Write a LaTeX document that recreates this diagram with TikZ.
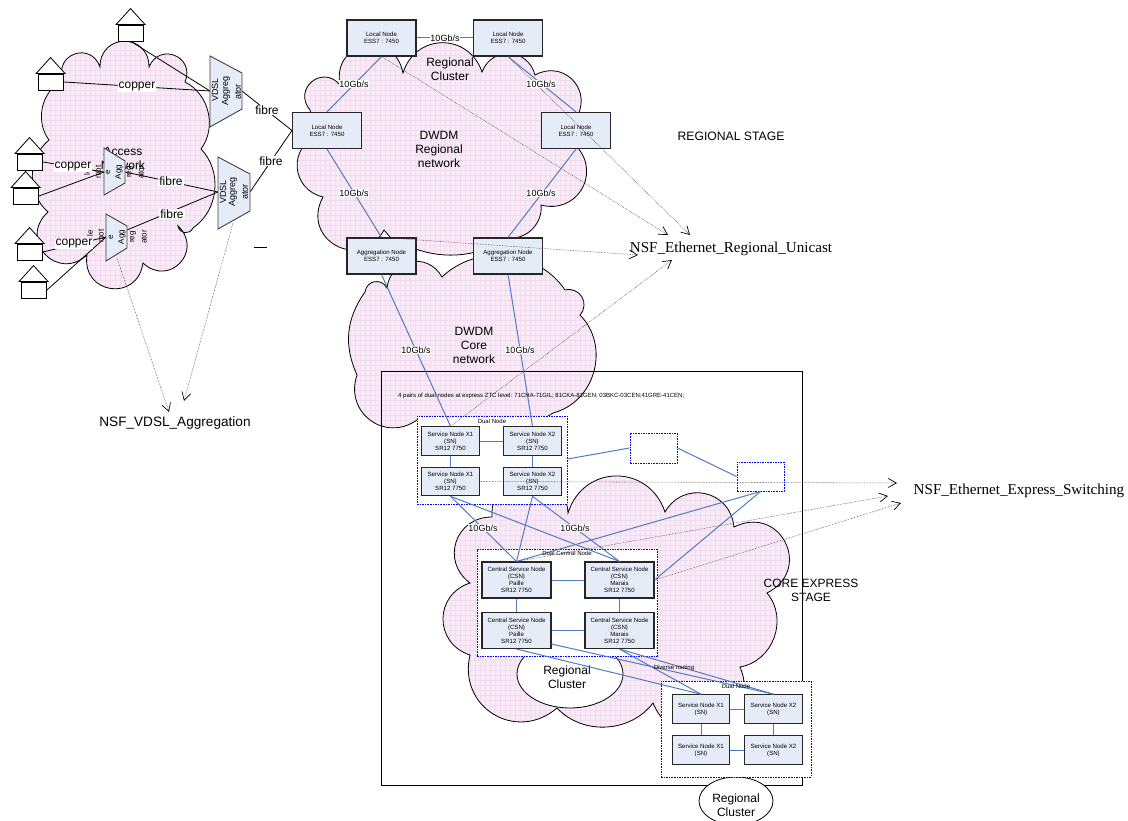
\documentclass[tikz,border=0pt]{standalone}
\usepackage{fontspec}
\setmainfont{Liberation Sans}
\newfontfamily\serifnsf{Liberation Serif}
\usetikzlibrary{arrows.meta,shapes.geometric}
\definecolor{pinkfill}{HTML}{F8EAF6}
\definecolor{pinkgrid}{HTML}{F3DCF0}
\definecolor{nodeblue}{HTML}{E6ECF7}
\definecolor{linkblue}{HTML}{4F7CC4}
\definecolor{groupblue}{HTML}{0000FF}
\newcommand{\cloudshape}[1]{%
  \fill[pinkfill] #1;
  \begin{scope}\clip #1;
    \draw[pinkgrid,line width=.3pt,step=5pt] (0,0) grid (1128,821);
  \end{scope}
  \draw[black,line width=.8pt] #1;
}
\newcommand{\house}[3]{%
  \node[housebox] (#1) at (#2,#3+24) {};
  \draw[black,line width=.8pt,fill=white,line join=miter] (#1.north west) ++(-2,0) -- ++(14.5,-16) -- ++(14.5,16) -- cycle;
}
\tikzset{
  lobe/.style={bend left=72,looseness=1.35},
  mid/.style={bend left=60,looseness=1.1},
  big/.style={bend left=90,looseness=1.8},
  flat/.style={bend left=50,looseness=1},
  vflat/.style={bend left=30,looseness=1},
  housebox/.style={draw=black,fill=white,line width=.9pt,minimum width=25pt,minimum height=16pt,inner sep=0pt},
  netnode/.style={draw=black!85,fill=nodeblue,line width=1.1pt,inner sep=0pt,align=center,font=\fontsize{6.1}{7}\selectfont},
  lnode/.style={netnode,minimum width=69pt,minimum height=36pt},
  snode/.style={netnode,minimum width=57.5pt,minimum height=28.5pt},
  groupbox/.style={draw=groupblue,dash pattern=on 1.6pt off 1pt,line width=1pt,fill=white,inner sep=0pt},
  link/.style={draw=linkblue,line width=1pt},
  wire/.style={draw=black,line width=.8pt},
  ref/.style={draw=black!75,densely dotted,line width=.55pt,-{Straight Barb[length=8pt,width=9pt,line width=.7pt,black]}},
  lab/.style={fill=white,inner sep=.6pt,font=\fontsize{9}{10}\selectfont},
  wirelab/.style={fill=white,inner sep=1pt,font=\fontsize{12}{13}\selectfont},
  txt/.style={align=center,font=\fontsize{12}{14}\selectfont,inner sep=0pt},
  smalltxt/.style={font=\fontsize{6}{7}\selectfont,inner sep=0pt},
  agg/.style={draw=black!75,fill=nodeblue,line width=.9pt},
  vert/.style={rotate=90,font=\fontsize{9}{10}\selectfont,inner sep=0pt},
  vertsm/.style={rotate=90,font=\fontsize{8}{9}\selectfont,inner sep=0pt},
  whitecloud/.style={ellipse,draw=black,line width=.8pt,fill=white,inner sep=0pt},
}
\begin{document}
\begin{tikzpicture}[x=1pt,y=-1pt]
\useasboundingbox (0,0) rectangle (1128,821);
\fill[white] (0,0) rectangle (1128,821);

% clouds
\cloudshape{(63,80) to[big] (100,67) to[big] (149,67) to[big] (185,82) to[flat] (201,149) to[flat] (193,228) to[lobe] (178,226) to[big] (143,263) to[big] (87,255) to[big] (48,212) to[flat] (49,140) to[flat] cycle}
\cloudshape{(310,110) to[big] (340,85) to[big] (403,73) to[lobe] (482,72) to[lobe] (535,75) to[lobe] (578,115) -- (578,148) to[lobe] (541,205) to[flat] (510,238) to[vflat] (390,237) -- (384,230) to[big] (323,197) to[lobe] (318,135) -- cycle}
\cloudshape{(365,292) to[lobe] (387,288) to[lobe] (442,277) to[flat] (565,290) to[lobe] (580,315) to[mid] (553,413) to[vflat] (417,420) to[lobe] (357,375) to[vflat] cycle}
\cloudshape{(492,517) to[big] (568,513) to[lobe] (665,512) to[lobe] (734,527) to[big] (767,593) to[mid] (740,667) to[big] (653,703) to[flat] (557,708) to[lobe] (470,655) to[lobe] (470,583) to[lobe] cycle}

% cloud texts
\node[txt] (tAccess) at (123,158) {Access\\Network};
\node[txt] (tRegCl) at (450,69.5) {Regional\\Cluster};
\node[txt] (tDwdmR) at (439,149) {DWDM\\Regional\\network};
\node[txt] (tDwdmC) at (474,345) {DWDM\\Core\\network};
\node[txt] (tCore) at (811,590) {CORE EXPRESS\\STAGE};
\node[txt,font=\fontsize{12.2}{14}\selectfont] (tStage) at (731,136) {REGIONAL STAGE};

% express frame
\node[draw=black,line width=.9pt,minimum width=421pt,minimum height=414pt,inner sep=0pt] (frame) at (591.5,578) {};

% lower regional clusters
\node[whitecloud,minimum width=106pt,minimum height=68pt] (rc1) at (570,674) {};
\node[whitecloud,minimum width=74pt,minimum height=48pt] (rc2) at (736,801) {};
\node[txt] (rc1t) at (567,677) {Regional\\Cluster};
\node[txt] (rc2t) at (736,805) {Regional\\Cluster};

% group boxes
\node[groupbox,minimum width=150pt,minimum height=88pt] (gD1) at (492,460) {};
\node[groupbox,minimum width=180pt,minimum height=107pt] (gC) at (567,602.5) {};
\node[groupbox,minimum width=150pt,minimum height=96pt] (gD2) at (736,729) {};
\node[groupbox,minimum width=47pt,minimum height=30pt] (b1) at (653.5,448) {};
\node[groupbox,minimum width=47pt,minimum height=29pt] (b2) at (760.5,476.5) {};

% regional nodes
\node[lnode] (L1) at (381.5,38) {Local Node\\ESS7 : 7450};
\node[lnode] (L2) at (508,38) {Local Node\\ESS7 : 7450};
\node[lnode] (LL) at (327,130.5) {Local Node\\ESS7 : 7450};
\node[lnode] (LR) at (576,130.5) {Local Node\\ESS7 : 7450};
\node[lnode] (A1) at (381.5,256) {Aggregation  Node\\ESS7 : 7450};
\node[lnode] (A2) at (508,256) {Aggregation  Node\\ESS7 : 7450};

% service nodes
\node[snode] (S1) at (450.5,441) {Service Node X1\\(SN)\\SR12 7750};
\node[snode] (S2) at (532.5,441) {Service Node X2\\(SN)\\SR12 7750};
\node[snode] (S3) at (450.5,481.5) {Service Node X1\\(SN)\\SR12 7750};
\node[snode] (S4) at (532.5,481.5) {Service Node X2\\(SN)\\SR12 7750};
\node[lnode] (C1) at (516.5,580) {Central Service Node\\(CSN)\\Paille\\SR12 7750};
\node[lnode] (C2) at (619.5,580) {Central Service Node\\(CSN)\\Marais\\SR12 7750};
\node[lnode] (C3) at (516.5,630.5) {Central Service Node\\(CSN)\\Paille\\SR12 7750};
\node[lnode] (C4) at (619.5,630.5) {Central Service Node\\(CSN)\\Marais\\SR12 7750};
\node[snode] (T1) at (701,709) {Service Node X1\\(SN)};
\node[snode] (T2) at (773.5,709) {Service Node X2\\(SN)};
\node[snode] (T3) at (701,750) {Service Node X1\\(SN)};
\node[snode] (T4) at (773.5,750) {Service Node X2\\(SN)};

% blue links
\draw[link] (L1) -- (L2);
\draw[link] (L1.south) -- (LL.north);
\draw[link] (L2.south) -- (LR.north);
\draw[link] (LL.south) -- (A1.north);
\draw[link] (LR.south) -- (A2.north);
\draw[link] (A1.south) -- (S1.north);
\draw[link] (A2.south) -- (S2.north);
\draw[link] (S1) -- (S2);
\draw[link] (S1) -- (S3);
\draw[link] (S2) -- (S4);
\draw[link] (S3.south) -- (C1.north);
\draw[link] (S3.south) -- (C2.north);
\draw[link] (S4.south) -- (C1.north);
\draw[link] (S4.south) -- (C2.north);
\draw[link] (gD1.east) ++(0,-1) -- (b1.west);
\draw[link] (b1.east) -- (b2.west);
\draw[link] (b2.south) -- (C1.north);
\draw[link] (b2.south) -- (C2.east);
\draw[link] (C1) -- (C2);
\draw[link] (C1) -- (C3);
\draw[link] (C2) -- (C4);
\draw[link] (C3) -- (C4);
\draw[link] (C3.south) -- (T1.north);
\draw[link] (C3.south east) ++(0,-5) -- (T2.north);
\draw[link] (C4.south) -- (T1.north);
\draw[link] (C4.south) -- (T2.north);
\draw[link] (T1) -- (T2);
\draw[link] (T1) -- (T3);
\draw[link] (T2) -- (T4);
\draw[link] (T3) -- (T4);

% aggregators
\coordinate (v1w) at (210,91); \coordinate (v1e) at (242,91);
\coordinate (v2w) at (218,192); \coordinate (v2e) at (250,192);
\coordinate (m1w) at (104,172); \coordinate (m1e) at (125,172);
\coordinate (m2w) at (106,237); \coordinate (m2e) at (127,230);
\coordinate (m2b) at (117,258); \coordinate (v2b) at (233,223);
\house{h1}{131}{9}
\house{h2}{51}{58}
\house{h3}{30}{138}
\house{h4}{26}{172}
\house{h5}{30}{228}
\house{h6}{34}{266}

\draw[wire] (h1.south) -- (v1w);
\draw[wire] (h2.east) -- (v1w);
\draw[wire] (h3.east) -- (m1w);
\draw[wire] (h4.east) -- (m1w);
\draw[wire] (h5.east) -- (m2w);
\draw[wire] (h6.east) -- (m2w);
\draw[wire] (m1e) -- (v2w);
\draw[wire] (m2e) -- (v2w);
\draw[wire] (v1e) -- (LL.west);
\draw[wire] (v2e) -- (LL.west);

\draw[agg] (210,56) -- (242,73) -- (242,109) -- (210,127) -- cycle;
\draw[agg] (218,157) -- (250,174) -- (250,211) -- (218,229) -- cycle;
\draw[agg] (104,148) -- (125,161) -- (125,183) -- (104,195) -- cycle;
\draw[agg] (106,214) -- (127,226) -- (127,248) -- (106,261) -- cycle;

\node[vert] (v1a) at (215,90) {VDSL}; \node[vert] (v1b) at (226,91) {Aggreg}; \node[vert] (v1c) at (238,92) {ator};
\node[vert] (v2a) at (223,192) {VDSL}; \node[vert] (v2b2) at (233,192) {Aggreg}; \node[vert] (v2c) at (245,192) {ator};
\node[vertsm] (m1a) at (87,172) {le}; \node[vertsm] (m1b) at (98,172) {mbt}; \node[vertsm] (m1c) at (108,172) {e}; \node[vertsm] (m1d) at (119,172) {Agg}; \node[vertsm] (m1e2) at (130,172) {reg}; \node[vertsm] (m1f) at (141,172) {ator};
\node[vertsm] (m2a) at (90,233) {le}; \node[vertsm] (m2b2) at (101,236) {mot}; \node[vertsm] (m2c) at (111,237) {e}; \node[vertsm] (m2d) at (122,237) {Agg}; \node[vertsm] (m2e2) at (133,237) {reg}; \node[vertsm] (m2f) at (144,237) {ator};

% dash
\coordinate (d1) at (254,247); \coordinate (d2) at (267,247);
\draw[black,line width=.8pt] (d1) -- (d2);

% reference arrows
\coordinate (rA) at (668,235); \coordinate (rB) at (690,235); \coordinate (rC) at (638,255); \coordinate (rD) at (672,260);
\coordinate (xA) at (897,483); \coordinate (xB) at (888,496); \coordinate (xC) at (901,503);
\coordinate (vA) at (169,412); \coordinate (vB) at (184,401);
\draw[ref] (L1.south) -- (rA);
\draw[ref] (L2.south) -- (rB);
\draw[ref] (A1.north) -- (rC);
\draw[ref] (S1.north) -- (rD);
\draw[ref] (S3.east) -- (xA);
\draw[ref] (C1.north) -- (xB);
\draw[ref] (C2.east) -- (xC);
\draw[ref] (m2b) -- (vA);
\draw[ref] (v2b) -- (vB);

% labels
\node[lab] (g1) at (445,38) {10Gb/s};
\node[lab] (g2) at (354,84) {10Gb/s};
\node[lab] (g3) at (541,84) {10Gb/s};
\node[lab] (g4) at (354,193) {10Gb/s};
\node[lab] (g5) at (541,193) {10Gb/s};
\node[lab] (g6) at (416,350) {10Gb/s};
\node[lab] (g7) at (520,350) {10Gb/s};
\node[lab] (g8) at (483,528) {10Gb/s};
\node[lab] (g9) at (575,528) {10Gb/s};
\node[wirelab] (w1) at (137,87) {copper};
\node[wirelab] (w2) at (73,167) {copper};
\node[wirelab] (w3) at (74,244) {copper};
\node[wirelab] (f1) at (267,110) {fibre};
\node[wirelab] (f2) at (271,161) {fibre};
\node[wirelab] (f3) at (171,181) {fibre};
\node[wirelab] (f4) at (172,214) {fibre};
\node[smalltxt,anchor=west] (note) at (398,396) {4 pairs of dual nodes at express ZTC level: 71CHA-71GIL; 81CKA-81GEN; 03BKC-03CEN;41GRE-41CEN;};
\node[smalltxt] (nD1) at (492,421) {Dual Node};
\node[smalltxt] (nC) at (567,553) {Dual Central Node};
\node[smalltxt] (nDv) at (674,668) {Diverse routing};
\node[smalltxt] (nD2) at (736,686) {Dual Node};
\node[inner sep=0pt,font=\serifnsf\fontsize{15.1}{17}\selectfont] (nU) at (731,249) {NSF\_Ethernet\_Regional\_Unicast};
\node[inner sep=0pt,font=\serifnsf\fontsize{15.1}{17}\selectfont] (nX) at (1019,491) {NSF\_Ethernet\_Express\_Switching};
\node[inner sep=0pt,font=\fontsize{13.6}{15}\selectfont] (nV) at (175,423) {NSF\_VDSL\_Aggregation};
\end{tikzpicture}
\end{document}
